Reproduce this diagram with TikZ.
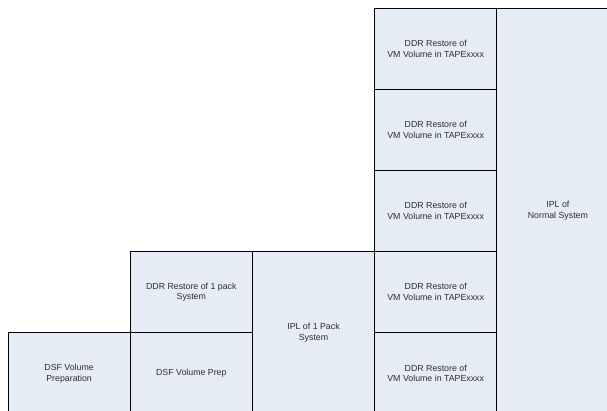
\documentclass[tikz,border=0pt]{standalone}
\usepackage{fontspec}
\setmainfont{Liberation Sans}
\usepackage{xcolor}
\definecolor{step-blue}{RGB}{230, 236, 246}
\definecolor{step-text}{RGB}{45, 45, 45}
\tikzset{
  steplabel/.style={midway, align=center, text=step-text,
    font=\fontsize{8.8}{10.8}\selectfont}
}

\begin{document}
\begin{tikzpicture}[x=1pt, y=-1pt, line width=1pt]
\useasboundingbox (0,0) rectangle (607,410);
\clip (0,0) rectangle (607,410);
\filldraw[fill=step-blue, draw=black] (8,332.8) rectangle node[steplabel] (volprep) {DSF Volume\\Preparation} (130.2,414);
\filldraw[fill=step-blue, draw=black] (130.2,251.6) rectangle node[steplabel] (onepackrestore) {DDR Restore of 1 pack\\System} (252.4,332.8);
\filldraw[fill=step-blue, draw=black] (130.2,332.8) rectangle node[steplabel] (volprepshort) {DSF Volume Prep} (252.4,414);
\filldraw[fill=step-blue, draw=black] (252.4,251.6) rectangle node[steplabel] (onepackipl) {IPL of 1 Pack\\System} (374.6,414);
\filldraw[fill=step-blue, draw=black] (374.6,8) rectangle node[steplabel] (restorea) {DDR Restore of\\VM Volume in TAPExxxx} (496.8,89.2);
\filldraw[fill=step-blue, draw=black] (374.6,89.2) rectangle node[steplabel] (restoreb) {DDR Restore of\\VM Volume in TAPExxxx} (496.8,170.4);
\filldraw[fill=step-blue, draw=black] (374.6,170.4) rectangle node[steplabel] (restorec) {DDR Restore of\\VM Volume in TAPExxxx} (496.8,251.6);
\filldraw[fill=step-blue, draw=black] (374.6,251.6) rectangle node[steplabel] (restored) {DDR Restore of\\VM Volume in TAPExxxx} (496.8,332.8);
\filldraw[fill=step-blue, draw=black] (374.6,332.8) rectangle node[steplabel] (restoree) {DDR Restore of\\VM Volume in TAPExxxx} (496.8,414);
\filldraw[fill=step-blue, draw=black] (496.8,8) rectangle node[steplabel] (normalipl) {IPL of\\Normal System} (619,414);
\end{tikzpicture}
\end{document}
